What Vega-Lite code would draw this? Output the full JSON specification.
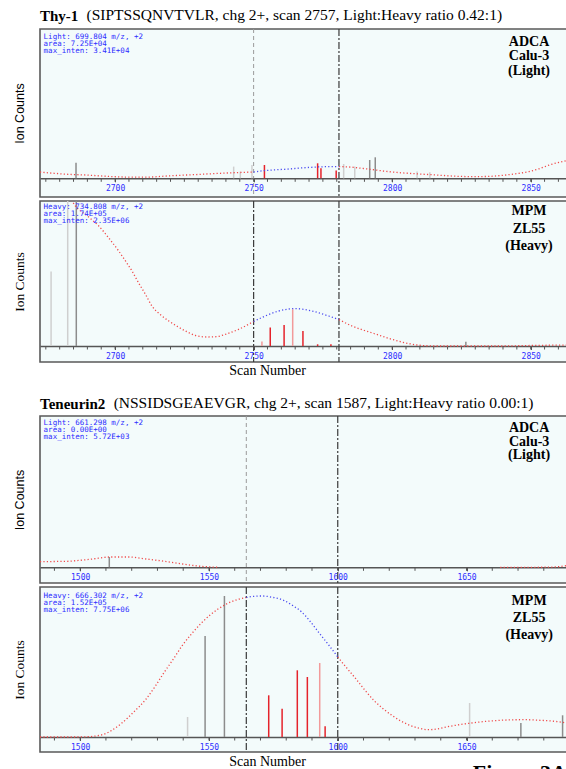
{
"$schema": "https://vega.github.io/schema/vega-lite/v6.json",
"background": "white",
"padding": {"left": 11, "top": 7, "right": 0, "bottom": 0},
"title": {"text": "Figure 3A", "orient": "bottom", "anchor": "end", "font": "Liberation Serif", "fontSize": 22, "fontWeight": "bold", "color": "black", "offset": -6, "dx": -18},
"config": {
  "view": {"fill": "#f3fbfb", "stroke": "#5a5a5a", "strokeWidth": 1.6},
  "title": {"anchor": "start", "frame": "group", "font": "Liberation Serif", "fontSize": 15, "fontWeight": "bold", "color": "black", "subtitleFont": "Liberation Serif", "subtitleFontSize": 15.5, "subtitleFontWeight": "normal", "subtitleColor": "black", "subtitlePadding": -15.5, "offset": 4},
  "axisX": {"grid": false, "tickColor": "#555", "tickSize": 3.5, "domainColor": "#555", "domainWidth": 1.5, "labelColor": "#2d2dff", "labelFont": "DejaVu Sans Mono", "labelFontSize": 8, "labelPadding": 3, "labelOverlap": false, "labelFlush": false, "titleFont": "Liberation Serif", "titleFontSize": 14, "titleFontWeight": "normal", "titleColor": "black", "titlePadding": 3},
  "axisY": {"grid": false, "labels": false, "ticks": false, "domain": false, "titleFont": "Liberation Sans", "titleFontSize": 12.5, "titleFontWeight": "normal", "titleColor": "black", "titlePadding": 14}
},
"datasets": {
  "ticksA": [{"scan":2675},{"scan":2680},{"scan":2685},{"scan":2690},{"scan":2695},{"scan":2700},{"scan":2705},{"scan":2710},{"scan":2715},{"scan":2720},{"scan":2725},{"scan":2730},{"scan":2735},{"scan":2740},{"scan":2745},{"scan":2750},{"scan":2755},{"scan":2760},{"scan":2765},{"scan":2770},{"scan":2775},{"scan":2780},{"scan":2785},{"scan":2790},{"scan":2795},{"scan":2800},{"scan":2805},{"scan":2810},{"scan":2815},{"scan":2820},{"scan":2825},{"scan":2830},{"scan":2835},{"scan":2840},{"scan":2845},{"scan":2850},{"scan":2855},{"scan":2860},{"scan":2865}],
  "ticksB": [{"scan":1490},{"scan":1500},{"scan":1510},{"scan":1520},{"scan":1530},{"scan":1540},{"scan":1550},{"scan":1560},{"scan":1570},{"scan":1580},{"scan":1590},{"scan":1600},{"scan":1610},{"scan":1620},{"scan":1630},{"scan":1640},{"scan":1650},{"scan":1660},{"scan":1670},{"scan":1680},{"scan":1690}],
  "vlines": [
    {"panel": 1, "scan": 2750, "style": "light"}, {"panel": 1, "scan": 2780.8, "style": "dark"},
    {"panel": 2, "scan": 2750, "style": "dark"}, {"panel": 2, "scan": 2780.8, "style": "dark"},
    {"panel": 3, "scan": 1564.5, "style": "light"}, {"panel": 3, "scan": 1600, "style": "dark"},
    {"panel": 4, "scan": 1564.5, "style": "dark"}, {"panel": 4, "scan": 1600, "style": "dark"}
  ],
  "bars": [
    {"panel": 1, "scan": 2685.9, "inten": 15.6, "kind": "other"},
    {"panel": 1, "scan": 2742.8, "inten": 11.7, "kind": "other_faint"},
    {"panel": 1, "scan": 2745.2, "inten": 6.7, "kind": "other_faint"},
    {"panel": 1, "scan": 2749.4, "inten": 13.3, "kind": "other_faint"},
    {"panel": 1, "scan": 2753.9, "inten": 13.3, "kind": "iso"},
    {"panel": 1, "scan": 2773.1, "inten": 15.0, "kind": "iso"},
    {"panel": 1, "scan": 2774.3, "inten": 10.0, "kind": "iso"},
    {"panel": 1, "scan": 2779.8, "inten": 7.7, "kind": "iso"},
    {"panel": 1, "scan": 2782.5, "inten": 14.3, "kind": "other_faint"},
    {"panel": 1, "scan": 2786.5, "inten": 11.7, "kind": "other_faint"},
    {"panel": 1, "scan": 2791.9, "inten": 18.3, "kind": "other"},
    {"panel": 1, "scan": 2793.9, "inten": 21.0, "kind": "other"},
    {"panel": 1, "scan": 2809.0, "inten": 6.7, "kind": "other_faint"},
    {"panel": 1, "scan": 2813.6, "inten": 6.0, "kind": "other_faint"},
    {"panel": 2, "scan": 2676.9, "inten": 74.4, "kind": "other_faint"},
    {"panel": 2, "scan": 2682.9, "inten": 170, "kind": "other_faint"},
    {"panel": 2, "scan": 2686.0, "inten": 170, "kind": "other"},
    {"panel": 2, "scan": 2753.0, "inten": 4.4, "kind": "iso_faint"},
    {"panel": 2, "scan": 2756.0, "inten": 18.4, "kind": "iso"},
    {"panel": 2, "scan": 2761.0, "inten": 21.0, "kind": "iso"},
    {"panel": 2, "scan": 2764.1, "inten": 36.7, "kind": "iso_faint"},
    {"panel": 2, "scan": 2767.8, "inten": 15.0, "kind": "iso"},
    {"panel": 2, "scan": 2773.1, "inten": 1.7, "kind": "iso"},
    {"panel": 2, "scan": 2777.9, "inten": 1.7, "kind": "iso"},
    {"panel": 2, "scan": 2826.6, "inten": 4.3, "kind": "other"},
    {"panel": 3, "scan": 1511.3, "inten": 10.3, "kind": "other"},
    {"panel": 4, "scan": 1541.7, "inten": 20.0, "kind": "other_faint"},
    {"panel": 4, "scan": 1548.5, "inten": 101.0, "kind": "other"},
    {"panel": 4, "scan": 1556.0, "inten": 141.0, "kind": "other"},
    {"panel": 4, "scan": 1573.2, "inten": 41.7, "kind": "iso"},
    {"panel": 4, "scan": 1578.4, "inten": 28.3, "kind": "iso"},
    {"panel": 4, "scan": 1584.3, "inten": 66.7, "kind": "iso"},
    {"panel": 4, "scan": 1588.2, "inten": 60.0, "kind": "iso"},
    {"panel": 4, "scan": 1593.0, "inten": 74.0, "kind": "iso_faint"},
    {"panel": 4, "scan": 1595.1, "inten": 10.7, "kind": "iso"},
    {"panel": 4, "scan": 1651.2, "inten": 34.0, "kind": "other_faint"},
    {"panel": 4, "scan": 1671.1, "inten": 14.0, "kind": "other"},
    {"panel": 4, "scan": 1687.3, "inten": 21.7, "kind": "other"}
  ],
  "curves": [
    {"panel": 1, "seg": 1, "part": "out", "scan": 2672.9, "inten": 6.2},
    {"panel": 1, "seg": 1, "part": "out", "scan": 2678, "inten": 5.0},
    {"panel": 1, "seg": 1, "part": "out", "scan": 2683, "inten": 4.0},
    {"panel": 1, "seg": 1, "part": "out", "scan": 2690, "inten": 3.2},
    {"panel": 1, "seg": 1, "part": "out", "scan": 2697, "inten": 2.0},
    {"panel": 1, "seg": 1, "part": "out", "scan": 2705, "inten": 1.2},
    {"panel": 1, "seg": 1, "part": "out", "scan": 2712, "inten": 1.2},
    {"panel": 1, "seg": 1, "part": "out", "scan": 2718, "inten": 2.2},
    {"panel": 1, "seg": 1, "part": "out", "scan": 2725, "inten": 3.2},
    {"panel": 1, "seg": 1, "part": "out", "scan": 2731, "inten": 4.0},
    {"panel": 1, "seg": 1, "part": "out", "scan": 2738, "inten": 5.0},
    {"panel": 1, "seg": 1, "part": "out", "scan": 2745, "inten": 5.8},
    {"panel": 1, "seg": 1, "part": "out", "scan": 2750, "inten": 6.3},
    {"panel": 1, "seg": 2, "part": "in", "scan": 2750, "inten": 6.3},
    {"panel": 1, "seg": 2, "part": "in", "scan": 2754, "inten": 7.7},
    {"panel": 1, "seg": 2, "part": "in", "scan": 2758, "inten": 8.5},
    {"panel": 1, "seg": 2, "part": "in", "scan": 2762.7, "inten": 9.3},
    {"panel": 1, "seg": 2, "part": "in", "scan": 2767, "inten": 10.3},
    {"panel": 1, "seg": 2, "part": "in", "scan": 2772.3, "inten": 11.2},
    {"panel": 1, "seg": 2, "part": "in", "scan": 2776, "inten": 11.6},
    {"panel": 1, "seg": 2, "part": "in", "scan": 2780.8, "inten": 11.7},
    {"panel": 1, "seg": 3, "part": "out", "scan": 2780.8, "inten": 11.7},
    {"panel": 1, "seg": 3, "part": "out", "scan": 2785, "inten": 11.2},
    {"panel": 1, "seg": 3, "part": "out", "scan": 2789, "inten": 10.0},
    {"panel": 1, "seg": 3, "part": "out", "scan": 2793, "inten": 8.7},
    {"panel": 1, "seg": 3, "part": "out", "scan": 2797, "inten": 7.2},
    {"panel": 1, "seg": 3, "part": "out", "scan": 2802, "inten": 5.8},
    {"panel": 1, "seg": 3, "part": "out", "scan": 2808, "inten": 4.6},
    {"panel": 1, "seg": 3, "part": "out", "scan": 2815.5, "inten": 3.4},
    {"panel": 1, "seg": 3, "part": "out", "scan": 2822, "inten": 2.2},
    {"panel": 1, "seg": 3, "part": "out", "scan": 2828.5, "inten": 1.7},
    {"panel": 1, "seg": 3, "part": "out", "scan": 2834, "inten": 1.8},
    {"panel": 1, "seg": 3, "part": "out", "scan": 2839, "inten": 2.7},
    {"panel": 1, "seg": 3, "part": "out", "scan": 2844, "inten": 4.3},
    {"panel": 1, "seg": 3, "part": "out", "scan": 2849.4, "inten": 6.7},
    {"panel": 1, "seg": 3, "part": "out", "scan": 2853, "inten": 9.5},
    {"panel": 1, "seg": 3, "part": "out", "scan": 2857.2, "inten": 13.7},
    {"panel": 1, "seg": 3, "part": "out", "scan": 2863.2, "inten": 17.7},
    {"panel": 1, "seg": 3, "part": "out", "scan": 2870, "inten": 22.0},
    {"panel": 2, "seg": 1, "part": "out", "scan": 2683, "inten": 152},
    {"panel": 2, "seg": 1, "part": "out", "scan": 2685.7, "inten": 140},
    {"panel": 2, "seg": 1, "part": "out", "scan": 2690, "inten": 130},
    {"panel": 2, "seg": 1, "part": "out", "scan": 2694.1, "inten": 120},
    {"panel": 2, "seg": 1, "part": "out", "scan": 2698, "inten": 107},
    {"panel": 2, "seg": 1, "part": "out", "scan": 2701.3, "inten": 95},
    {"panel": 2, "seg": 1, "part": "out", "scan": 2704, "inten": 84},
    {"panel": 2, "seg": 1, "part": "out", "scan": 2706.1, "inten": 75},
    {"panel": 2, "seg": 1, "part": "out", "scan": 2708.5, "inten": 63},
    {"panel": 2, "seg": 1, "part": "out", "scan": 2710.9, "inten": 52},
    {"panel": 2, "seg": 1, "part": "out", "scan": 2713.3, "inten": 40},
    {"panel": 2, "seg": 1, "part": "out", "scan": 2716.5, "inten": 31},
    {"panel": 2, "seg": 1, "part": "out", "scan": 2719.4, "inten": 25},
    {"panel": 2, "seg": 1, "part": "out", "scan": 2722.5, "inten": 19.5},
    {"panel": 2, "seg": 1, "part": "out", "scan": 2725.4, "inten": 15},
    {"panel": 2, "seg": 1, "part": "out", "scan": 2729, "inten": 10.5},
    {"panel": 2, "seg": 1, "part": "out", "scan": 2733, "inten": 9},
    {"panel": 2, "seg": 1, "part": "out", "scan": 2736.5, "inten": 9.3},
    {"panel": 2, "seg": 1, "part": "out", "scan": 2739.8, "inten": 11.7},
    {"panel": 2, "seg": 1, "part": "out", "scan": 2744.6, "inten": 16.7},
    {"panel": 2, "seg": 1, "part": "out", "scan": 2750, "inten": 24.5},
    {"panel": 2, "seg": 2, "part": "in", "scan": 2750, "inten": 24.5},
    {"panel": 2, "seg": 2, "part": "in", "scan": 2754.2, "inten": 30},
    {"panel": 2, "seg": 2, "part": "in", "scan": 2759.1, "inten": 35},
    {"panel": 2, "seg": 2, "part": "in", "scan": 2765, "inten": 37.4},
    {"panel": 2, "seg": 2, "part": "in", "scan": 2771.1, "inten": 35},
    {"panel": 2, "seg": 2, "part": "in", "scan": 2777.1, "inten": 30},
    {"panel": 2, "seg": 2, "part": "in", "scan": 2780.8, "inten": 26.5},
    {"panel": 2, "seg": 3, "part": "out", "scan": 2780.8, "inten": 26.5},
    {"panel": 2, "seg": 3, "part": "out", "scan": 2785.5, "inten": 20},
    {"panel": 2, "seg": 3, "part": "out", "scan": 2790, "inten": 15.5},
    {"panel": 2, "seg": 3, "part": "out", "scan": 2793.4, "inten": 12.5},
    {"panel": 2, "seg": 3, "part": "out", "scan": 2799.9, "inten": 6.7},
    {"panel": 2, "seg": 3, "part": "out", "scan": 2805, "inten": 3},
    {"panel": 2, "seg": 3, "part": "out", "scan": 2809, "inten": 1},
    {"panel": 2, "seg": 3, "part": "out", "scan": 2815.5, "inten": 0},
    {"panel": 2, "seg": 3, "part": "out", "scan": 2839, "inten": 0},
    {"panel": 2, "seg": 3, "part": "out", "scan": 2850, "inten": 0.5},
    {"panel": 2, "seg": 3, "part": "out", "scan": 2863.2, "inten": 1},
    {"panel": 2, "seg": 3, "part": "out", "scan": 2870, "inten": 1.2},
    {"panel": 3, "seg": 1, "part": "out", "scan": 1484.4, "inten": 5.7},
    {"panel": 3, "seg": 1, "part": "out", "scan": 1490, "inten": 5.8},
    {"panel": 3, "seg": 1, "part": "out", "scan": 1494.9, "inten": 6.0},
    {"panel": 3, "seg": 1, "part": "out", "scan": 1500, "inten": 7.0},
    {"panel": 3, "seg": 1, "part": "out", "scan": 1504.7, "inten": 8.3},
    {"panel": 3, "seg": 1, "part": "out", "scan": 1511.7, "inten": 10.3},
    {"panel": 3, "seg": 1, "part": "out", "scan": 1518.7, "inten": 10.3},
    {"panel": 3, "seg": 1, "part": "out", "scan": 1525.7, "inten": 8.3},
    {"panel": 3, "seg": 1, "part": "out", "scan": 1532.7, "inten": 6.0},
    {"panel": 3, "seg": 1, "part": "out", "scan": 1539.7, "inten": 3.3},
    {"panel": 3, "seg": 1, "part": "out", "scan": 1546.8, "inten": 1.0},
    {"panel": 3, "seg": 1, "part": "out", "scan": 1553.7, "inten": 0},
    {"panel": 3, "seg": 2, "part": "out", "scan": 1663.1, "inten": 0},
    {"panel": 3, "seg": 2, "part": "out", "scan": 1675, "inten": 0},
    {"panel": 3, "seg": 2, "part": "out", "scan": 1684.1, "inten": 0.3},
    {"panel": 3, "seg": 2, "part": "out", "scan": 1689.2, "inten": 1.7},
    {"panel": 3, "seg": 2, "part": "out", "scan": 1696, "inten": 3.0},
    {"panel": 4, "seg": 1, "part": "out", "scan": 1484.4, "inten": 0},
    {"panel": 4, "seg": 1, "part": "out", "scan": 1497.7, "inten": 0},
    {"panel": 4, "seg": 1, "part": "out", "scan": 1503, "inten": 0.3},
    {"panel": 4, "seg": 1, "part": "out", "scan": 1508.9, "inten": 2.5},
    {"panel": 4, "seg": 1, "part": "out", "scan": 1512.5, "inten": 7},
    {"panel": 4, "seg": 1, "part": "out", "scan": 1515.9, "inten": 13.3},
    {"panel": 4, "seg": 1, "part": "out", "scan": 1520.8, "inten": 25},
    {"panel": 4, "seg": 1, "part": "out", "scan": 1525.7, "inten": 38.3},
    {"panel": 4, "seg": 1, "part": "out", "scan": 1529.2, "inten": 51},
    {"panel": 4, "seg": 1, "part": "out", "scan": 1532.7, "inten": 65},
    {"panel": 4, "seg": 1, "part": "out", "scan": 1536.2, "inten": 78},
    {"panel": 4, "seg": 1, "part": "out", "scan": 1539.7, "inten": 91.7},
    {"panel": 4, "seg": 1, "part": "out", "scan": 1543.2, "inten": 103},
    {"panel": 4, "seg": 1, "part": "out", "scan": 1546.8, "inten": 113.3},
    {"panel": 4, "seg": 1, "part": "out", "scan": 1550.2, "inten": 121.5},
    {"panel": 4, "seg": 1, "part": "out", "scan": 1553.7, "inten": 128.3},
    {"panel": 4, "seg": 1, "part": "out", "scan": 1557.2, "inten": 133.5},
    {"panel": 4, "seg": 1, "part": "out", "scan": 1560.8, "inten": 137.3},
    {"panel": 4, "seg": 1, "part": "out", "scan": 1564.5, "inten": 139.5},
    {"panel": 4, "seg": 2, "part": "in", "scan": 1564.5, "inten": 139.5},
    {"panel": 4, "seg": 2, "part": "in", "scan": 1567.5, "inten": 140.7},
    {"panel": 4, "seg": 2, "part": "in", "scan": 1570.6, "inten": 141},
    {"panel": 4, "seg": 2, "part": "in", "scan": 1575, "inten": 139.5},
    {"panel": 4, "seg": 2, "part": "in", "scan": 1579, "inten": 136.7},
    {"panel": 4, "seg": 2, "part": "in", "scan": 1582.5, "inten": 131.5},
    {"panel": 4, "seg": 2, "part": "in", "scan": 1586, "inten": 125},
    {"panel": 4, "seg": 2, "part": "in", "scan": 1589.5, "inten": 115},
    {"panel": 4, "seg": 2, "part": "in", "scan": 1593, "inten": 103.3},
    {"panel": 4, "seg": 2, "part": "in", "scan": 1596.5, "inten": 92},
    {"panel": 4, "seg": 2, "part": "in", "scan": 1600, "inten": 80},
    {"panel": 4, "seg": 3, "part": "out", "scan": 1600, "inten": 80},
    {"panel": 4, "seg": 3, "part": "out", "scan": 1603.5, "inten": 69},
    {"panel": 4, "seg": 3, "part": "out", "scan": 1607, "inten": 58.3},
    {"panel": 4, "seg": 3, "part": "out", "scan": 1610.5, "inten": 47},
    {"panel": 4, "seg": 3, "part": "out", "scan": 1614, "inten": 36.7},
    {"panel": 4, "seg": 3, "part": "out", "scan": 1617.5, "inten": 28.5},
    {"panel": 4, "seg": 3, "part": "out", "scan": 1621, "inten": 21.7},
    {"panel": 4, "seg": 3, "part": "out", "scan": 1624.5, "inten": 16},
    {"panel": 4, "seg": 3, "part": "out", "scan": 1628, "inten": 11.7},
    {"panel": 4, "seg": 3, "part": "out", "scan": 1631.5, "inten": 8.8},
    {"panel": 4, "seg": 3, "part": "out", "scan": 1635.1, "inten": 7.3},
    {"panel": 4, "seg": 3, "part": "out", "scan": 1638.5, "inten": 8},
    {"panel": 4, "seg": 3, "part": "out", "scan": 1642.1, "inten": 10},
    {"panel": 4, "seg": 3, "part": "out", "scan": 1646.5, "inten": 12},
    {"panel": 4, "seg": 3, "part": "out", "scan": 1651.9, "inten": 14},
    {"panel": 4, "seg": 3, "part": "out", "scan": 1657, "inten": 15.5},
    {"panel": 4, "seg": 3, "part": "out", "scan": 1663.1, "inten": 16.7},
    {"panel": 4, "seg": 3, "part": "out", "scan": 1668, "inten": 17.2},
    {"panel": 4, "seg": 3, "part": "out", "scan": 1672.9, "inten": 17.3},
    {"panel": 4, "seg": 3, "part": "out", "scan": 1678, "inten": 16.8},
    {"panel": 4, "seg": 3, "part": "out", "scan": 1684.1, "inten": 15.7},
    {"panel": 4, "seg": 3, "part": "out", "scan": 1689.2, "inten": 14},
    {"panel": 4, "seg": 3, "part": "out", "scan": 1696, "inten": 12}
  ]
},
"spacing": 16,
"vconcat": [
 {"spacing": 0, "vconcat": [
  {"width": 545, "height": 168,
   "title": {"text": "Thy-1", "subtitle": "\u200b\u00a0\u00a0\u00a0\u00a0\u00a0\u00a0\u00a0\u00a0\u00a0\u00a0\u00a0\u00a0(SIPTSSQNVTVLR, chg 2+, scan 2757, Light:Heavy ratio 0.42:1)", "offset": 4},
   "layer": [
    {"data": {"name": "vlines"}, "transform": [{"filter": "datum.panel === 1 && datum.style === 'light'"}], "mark": {"type": "rule", "color": "#9a9a9a", "strokeWidth": 1, "strokeDash": [4, 3]}, "encoding": {"x": {"field": "scan", "type": "quantitative", "title": null}}},
    {"data": {"name": "vlines"}, "transform": [{"filter": "datum.panel === 1 && datum.style === 'dark'"}], "mark": {"type": "rule", "color": "#3a3a3a", "strokeWidth": 1.2, "strokeDash": [7, 2, 2, 2]}, "encoding": {"x": {"field": "scan", "type": "quantitative", "title": null}}},
    {"data": {"name": "ticksA"}, "mark": {"type": "rule", "color": "#555", "strokeWidth": 1}, "encoding": {"x": {"field": "scan", "type": "quantitative", "title": null}, "y": {"datum": 0, "type": "quantitative"}, "y2": {"datum": -3.5}}},
    {"data": {"name": "bars"}, "transform": [{"filter": "datum.panel === 1"}], "mark": {"type": "rule", "strokeWidth": 1.5, "clip": true},
     "encoding": {
      "x": {"field": "scan", "type": "quantitative", "title": null, "scale": {"domain": [2672.9, 2869.6], "nice": false, "zero": false}, "axis": {"values": [2700, 2750, 2800, 2850], "format": "d", "offset": -18.7}},
      "y": {"field": "inten", "type": "quantitative", "title": "Ion Counts", "scale": {"domain": [-18.7, 149.3], "nice": false, "zero": false}},
      "y2": {"datum": 0},
      "color": {"field": "kind", "type": "nominal", "scale": {"domain": ["other","other_faint","iso","iso_faint","out","in"], "range": ["#8c8c8c","#cfcfcf","#e5232b","#f29a9a","#f04a4a","#4b4bf0"]}, "legend": null}}},
    {"data": {"name": "curves"}, "transform": [{"filter": "datum.panel === 1"}], "mark": {"type": "line", "strokeWidth": 1.3, "strokeDash": [1.2, 2.2], "clip": true, "interpolate": "monotone"},
     "encoding": {
      "x": {"field": "scan", "type": "quantitative", "title": null},
      "y": {"field": "inten", "type": "quantitative", "title": "Ion Counts"},
      "color": {"field": "part", "type": "nominal", "scale": {"domain": ["other","other_faint","iso","iso_faint","out","in"], "range": ["#8c8c8c","#cfcfcf","#e5232b","#f29a9a","#f04a4a","#4b4bf0"]}, "legend": null},
      "detail": {"field": "seg", "type": "nominal"}}},
    {"data": {"values": [{}]}, "mark": {"type": "text", "text": ["Light: 699.804 m/z, +2", "area: 7.25E+04", "max_inten: 3.41E+04"], "align": "left", "baseline": "top", "font": "DejaVu Sans Mono", "fontSize": 7.5, "lineHeight": 7, "color": "#2d2dff"},
     "encoding": {"x": {"datum": 2674.2, "type": "quantitative"}, "y": {"datum": 145, "type": "quantitative"}}},
    {"data": {"values": [{}]}, "mark": {"type": "text", "text": ["ADCA", "Calu-3", "(Light)"], "align": "center", "baseline": "top", "font": "Liberation Serif", "fontSize": 14, "fontWeight": "bold", "lineHeight": 14.2, "color": "black"},
     "encoding": {"x": {"datum": 2849.4, "type": "quantitative"}, "y": {"datum": 143, "type": "quantitative"}}}
   ]},
  {"width": 545, "height": 161,
   "layer": [
    {"data": {"name": "vlines"}, "transform": [{"filter": "datum.panel === 2"}], "mark": {"type": "rule", "color": "#3a3a3a", "strokeWidth": 1.2, "strokeDash": [7, 2, 2, 2]}, "encoding": {"x": {"field": "scan", "type": "quantitative", "title": "Scan Number"}}},
    {"data": {"name": "ticksA"}, "mark": {"type": "rule", "color": "#555", "strokeWidth": 1}, "encoding": {"x": {"field": "scan", "type": "quantitative", "title": "Scan Number"}, "y": {"datum": 0, "type": "quantitative"}, "y2": {"datum": -3.5}}},
    {"data": {"name": "bars"}, "transform": [{"filter": "datum.panel === 2"}], "mark": {"type": "rule", "strokeWidth": 1.5, "clip": true},
     "encoding": {
      "x": {"field": "scan", "type": "quantitative", "title": "Scan Number", "scale": {"domain": [2672.9, 2869.6], "nice": false, "zero": false}, "axis": {"values": [2700, 2750, 2800, 2850], "format": "d", "offset": -16, "titleX": 227}},
      "y": {"field": "inten", "type": "quantitative", "title": "Ion Counts", "scale": {"domain": [-16, 145], "nice": false, "zero": false}, "axis": {"titleFont": "Liberation Serif", "titleFontSize": 13.5}},
      "y2": {"datum": 0},
      "color": {"field": "kind", "type": "nominal", "scale": {"domain": ["other","other_faint","iso","iso_faint","out","in"], "range": ["#8c8c8c","#cfcfcf","#e5232b","#f29a9a","#f04a4a","#4b4bf0"]}, "legend": null}}},
    {"data": {"name": "curves"}, "transform": [{"filter": "datum.panel === 2"}], "mark": {"type": "line", "strokeWidth": 1.3, "strokeDash": [1.2, 2.2], "clip": true, "interpolate": "monotone"},
     "encoding": {
      "x": {"field": "scan", "type": "quantitative", "title": "Scan Number"},
      "y": {"field": "inten", "type": "quantitative", "title": "Ion Counts"},
      "color": {"field": "part", "type": "nominal", "scale": {"domain": ["other","other_faint","iso","iso_faint","out","in"], "range": ["#8c8c8c","#cfcfcf","#e5232b","#f29a9a","#f04a4a","#4b4bf0"]}, "legend": null},
      "detail": {"field": "seg", "type": "nominal"}}},
    {"data": {"values": [{}]}, "mark": {"type": "text", "text": ["Heavy: 734.808 m/z, +2", "area: 1.74E+05", "max_inten: 2.35E+06"], "align": "left", "baseline": "top", "font": "DejaVu Sans Mono", "fontSize": 7.5, "lineHeight": 7, "color": "#2d2dff"},
     "encoding": {"x": {"datum": 2674.2, "type": "quantitative"}, "y": {"datum": 143, "type": "quantitative"}}},
    {"data": {"values": [{}]}, "mark": {"type": "text", "text": ["MPM", "ZL55", "(Heavy)"], "align": "center", "baseline": "top", "font": "Liberation Serif", "fontSize": 14, "fontWeight": "bold", "lineHeight": 17.5, "color": "black"},
     "encoding": {"x": {"datum": 2849.4, "type": "quantitative"}, "y": {"datum": 142, "type": "quantitative"}}}
   ]}
 ]},
 {"spacing": 0, "vconcat": [
  {"width": 545, "height": 167,
   "title": {"text": "Teneurin2", "subtitle": "\u200b\u00a0\u00a0\u00a0\u00a0\u00a0\u00a0\u00a0\u00a0\u00a0\u00a0\u00a0\u00a0\u00a0\u00a0\u00a0\u00a0\u00a0\u00a0\u00a0(NSSIDSGEAEVGR, chg 2+, scan 1587, Light:Heavy ratio 0.00:1)", "offset": 3},
   "layer": [
    {"data": {"name": "vlines"}, "transform": [{"filter": "datum.panel === 3 && datum.style === 'light'"}], "mark": {"type": "rule", "color": "#9a9a9a", "strokeWidth": 1, "strokeDash": [4, 3]}, "encoding": {"x": {"field": "scan", "type": "quantitative", "title": null}}},
    {"data": {"name": "vlines"}, "transform": [{"filter": "datum.panel === 3 && datum.style === 'dark'"}], "mark": {"type": "rule", "color": "#3a3a3a", "strokeWidth": 1.2, "strokeDash": [7, 2, 2, 2]}, "encoding": {"x": {"field": "scan", "type": "quantitative", "title": null}}},
    {"data": {"name": "ticksB"}, "mark": {"type": "rule", "color": "#555", "strokeWidth": 1}, "encoding": {"x": {"field": "scan", "type": "quantitative", "title": null}, "y": {"datum": 0, "type": "quantitative"}, "y2": {"datum": -3.5}}},
    {"data": {"name": "bars"}, "transform": [{"filter": "datum.panel === 3"}], "mark": {"type": "rule", "strokeWidth": 1.5, "clip": true},
     "encoding": {
      "x": {"field": "scan", "type": "quantitative", "title": null, "scale": {"domain": [1484.4, 1696.0], "nice": false, "zero": false}, "axis": {"values": [1500, 1550, 1600, 1650], "format": "d", "offset": -15.7}},
      "y": {"field": "inten", "type": "quantitative", "title": "Ion Counts", "scale": {"domain": [-15.7, 151.3], "nice": false, "zero": false}},
      "y2": {"datum": 0},
      "color": {"field": "kind", "type": "nominal", "scale": {"domain": ["other","other_faint","iso","iso_faint","out","in"], "range": ["#8c8c8c","#cfcfcf","#e5232b","#f29a9a","#f04a4a","#4b4bf0"]}, "legend": null}}},
    {"data": {"name": "curves"}, "transform": [{"filter": "datum.panel === 3"}], "mark": {"type": "line", "strokeWidth": 1.3, "strokeDash": [1.2, 2.2], "clip": true, "interpolate": "monotone"},
     "encoding": {
      "x": {"field": "scan", "type": "quantitative", "title": null},
      "y": {"field": "inten", "type": "quantitative", "title": "Ion Counts"},
      "color": {"field": "part", "type": "nominal", "scale": {"domain": ["other","other_faint","iso","iso_faint","out","in"], "range": ["#8c8c8c","#cfcfcf","#e5232b","#f29a9a","#f04a4a","#4b4bf0"]}, "legend": null},
      "detail": {"field": "seg", "type": "nominal"}}},
    {"data": {"values": [{}]}, "mark": {"type": "text", "text": ["Light: 661.298 m/z, +2", "area: 0.00E+00", "max_inten: 5.72E+03"], "align": "left", "baseline": "top", "font": "DejaVu Sans Mono", "fontSize": 7.5, "lineHeight": 7, "color": "#2d2dff"},
     "encoding": {"x": {"datum": 1485.8, "type": "quantitative"}, "y": {"datum": 148, "type": "quantitative"}}},
    {"data": {"values": [{}]}, "mark": {"type": "text", "text": ["ADCA", "Calu-3", "(Light)"], "align": "center", "baseline": "top", "font": "Liberation Serif", "fontSize": 14, "fontWeight": "bold", "lineHeight": 13.6, "color": "black"},
     "encoding": {"x": {"datum": 1674.3, "type": "quantitative"}, "y": {"datum": 146, "type": "quantitative"}}}
   ]},
  {"width": 545, "height": 165,
   "layer": [
    {"data": {"name": "vlines"}, "transform": [{"filter": "datum.panel === 4"}], "mark": {"type": "rule", "color": "#3a3a3a", "strokeWidth": 1.2, "strokeDash": [7, 2, 2, 2]}, "encoding": {"x": {"field": "scan", "type": "quantitative", "title": "Scan Number"}}},
    {"data": {"name": "ticksB"}, "mark": {"type": "rule", "color": "#555", "strokeWidth": 1}, "encoding": {"x": {"field": "scan", "type": "quantitative", "title": "Scan Number"}, "y": {"datum": 0, "type": "quantitative"}, "y2": {"datum": -3.5}}},
    {"data": {"name": "bars"}, "transform": [{"filter": "datum.panel === 4"}], "mark": {"type": "rule", "strokeWidth": 1.5, "clip": true},
     "encoding": {
      "x": {"field": "scan", "type": "quantitative", "title": "Scan Number", "scale": {"domain": [1484.4, 1696.0], "nice": false, "zero": false}, "axis": {"values": [1500, 1550, 1600, 1650], "format": "d", "offset": -15, "titleX": 227}},
      "y": {"field": "inten", "type": "quantitative", "title": "Ion Counts", "scale": {"domain": [-15, 150], "nice": false, "zero": false}, "axis": {"titleFont": "Liberation Serif", "titleFontSize": 13.5}},
      "y2": {"datum": 0},
      "color": {"field": "kind", "type": "nominal", "scale": {"domain": ["other","other_faint","iso","iso_faint","out","in"], "range": ["#8c8c8c","#cfcfcf","#e5232b","#f29a9a","#f04a4a","#4b4bf0"]}, "legend": null}}},
    {"data": {"name": "curves"}, "transform": [{"filter": "datum.panel === 4"}], "mark": {"type": "line", "strokeWidth": 1.3, "strokeDash": [1.2, 2.2], "clip": true, "interpolate": "monotone"},
     "encoding": {
      "x": {"field": "scan", "type": "quantitative", "title": "Scan Number"},
      "y": {"field": "inten", "type": "quantitative", "title": "Ion Counts"},
      "color": {"field": "part", "type": "nominal", "scale": {"domain": ["other","other_faint","iso","iso_faint","out","in"], "range": ["#8c8c8c","#cfcfcf","#e5232b","#f29a9a","#f04a4a","#4b4bf0"]}, "legend": null},
      "detail": {"field": "seg", "type": "nominal"}}},
    {"data": {"values": [{}]}, "mark": {"type": "text", "text": ["Heavy: 666.302 m/z, +2", "area: 1.52E+05", "max_inten: 7.75E+06"], "align": "left", "baseline": "top", "font": "DejaVu Sans Mono", "fontSize": 7.5, "lineHeight": 7, "color": "#2d2dff"},
     "encoding": {"x": {"datum": 1485.8, "type": "quantitative"}, "y": {"datum": 145, "type": "quantitative"}}},
    {"data": {"values": [{}]}, "mark": {"type": "text", "text": ["MPM", "ZL55", "(Heavy)"], "align": "center", "baseline": "top", "font": "Liberation Serif", "fontSize": 14, "fontWeight": "bold", "lineHeight": 17, "color": "black"},
     "encoding": {"x": {"datum": 1674.3, "type": "quantitative"}, "y": {"datum": 143, "type": "quantitative"}}}
   ]}
 ]}
]
}
